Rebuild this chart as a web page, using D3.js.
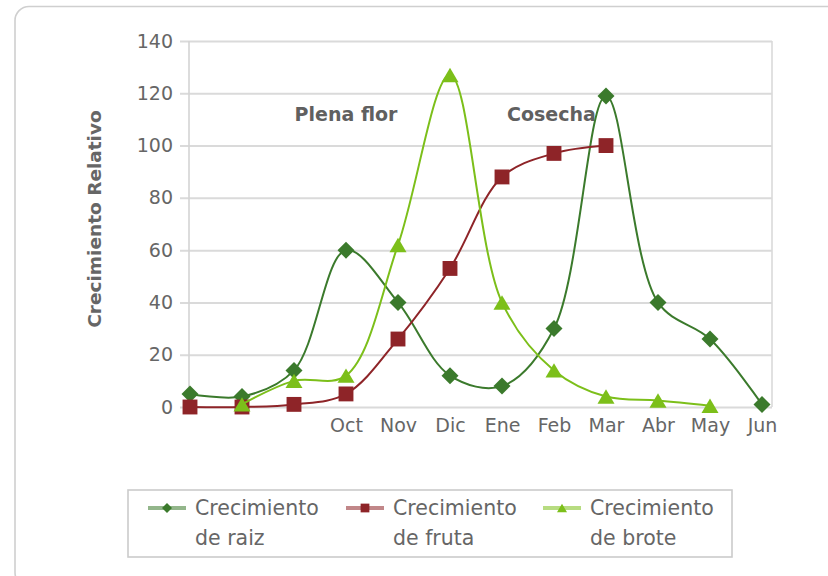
<!DOCTYPE html>
<html>
<head>
<meta charset="utf-8">
<script src="https://cdn.jsdelivr.net/npm/d3@7"></script>
<style>
  html, body { margin: 0; padding: 0; background: #fff; }
  svg { display: block; }
</style>
</head>
<body>
<svg id="chart" width="828" height="576"></svg>
<script>
// Month labels along the x axis (the first three months carry no label)
const monthLabels = ["", "", "", "Oct", "Nov", "Dic", "Ene", "Feb", "Mar", "Abr", "May", "Jun"];

// Relative growth per month (null = no measurement)
const raiz  = [5, 4, 14, 60, 40, 12, 8, 30, 119, 40, 26, 1];
const fruta = [0, 0, 1, 5, 26, 53, 88, 97, 100, null, null, null];
const brote = [null, 1, 10, 12, 62, 127, 40, 14, 4, 2.5, 0.5, null];

const seriesNames = ["Crecimiento de raiz", "Crecimiento de fruta", "Crecimiento de brote"];
const yTicks = [0, 20, 40, 60, 80, 100, 120, 140];
const yTitle = "Crecimiento Relativo";

// Phase annotations: label, month index, height in chart units
const annotationLabels = ["Plena flor", "Cosecha"];
const annotationMonths = [3, 6.95];
const annotationLevel = 112;

const colors = ["#3b7a2c", "#8e2428", "#7cbf1a"];
const markerShapes = ["diamond", "square", "triangle"];
const FONT = "'DejaVu Sans', sans-serif";
const TEXT = "#666";

const svg = d3.select("#chart");

// outer rounded frame
svg.append("rect")
  .attr("x", 15).attr("y", 6.5)
  .attr("width", 900).attr("height", 580)
  .attr("rx", 14).attr("ry", 14)
  .attr("fill", "none")
  .attr("stroke", "#cfcfcf")
  .attr("stroke-width", 1.6);

const plot = { left: 189, right: 772, top: 41, bottom: 407 };

const x = d3.scaleLinear().domain([0, monthLabels.length - 1]).range([190, 762]);
const y = d3.scaleLinear().domain([0, 140]).range([plot.bottom, plot.top]);

// horizontal gridlines + y tick labels
const yAxis = svg.append("g")
  .attr("transform", `translate(180,0)`)
  .call(d3.axisLeft(y).tickValues(yTicks).tickSize(-(plot.right - 180)).tickPadding(7));
yAxis.select(".domain").remove();
yAxis.selectAll(".tick line").attr("stroke", "#dadada").attr("stroke-width", 2);
yAxis.selectAll(".tick text")
  .attr("font-family", FONT).attr("font-size", 19).attr("fill", TEXT);

// vertical frame lines of the plot area
svg.append("line")
  .attr("x1", plot.left).attr("x2", plot.left)
  .attr("y1", plot.top).attr("y2", plot.bottom)
  .attr("stroke", "#d4d4d4").attr("stroke-width", 1.6);
svg.append("line")
  .attr("x1", plot.right).attr("x2", plot.right)
  .attr("y1", plot.top).attr("y2", plot.bottom)
  .attr("stroke", "#dadada").attr("stroke-width", 1.6);

// x axis labels
const xAxis = svg.append("g")
  .attr("transform", `translate(0,${plot.bottom})`)
  .call(d3.axisBottom(x).tickValues(d3.range(monthLabels.length))
    .tickFormat(i => monthLabels[i]).tickSize(0).tickPadding(12));
xAxis.select(".domain").remove();
xAxis.selectAll(".tick text")
  .attr("font-family", FONT).attr("font-size", 19).attr("fill", TEXT);

// y axis title
svg.append("text")
  .attr("transform", "translate(95,219) rotate(-90)")
  .attr("text-anchor", "middle")
  .attr("dy", "0.35em")
  .attr("font-family", FONT).attr("font-size", 18.5).attr("font-weight", "bold")
  .attr("fill", TEXT)
  .text(yTitle);

// annotations
annotationLabels.forEach((label, i) => {
  svg.append("text")
    .attr("x", x(annotationMonths[i]))
    .attr("y", y(annotationLevel))
    .attr("dy", "0.35em")
    .attr("text-anchor", "middle")
    .attr("font-family", FONT).attr("font-size", 19).attr("font-weight", "bold")
    .attr("fill", "#606060")
    .text(label);
});

// marker path generator
function markerPath(shape, s) {
  if (shape === "diamond") return `M0,${-s}L${s},0L0,${s}L${-s},0Z`;
  if (shape === "square") return `M${-s * 0.875},${-s * 0.875}H${s * 0.875}V${s * 0.875}H${-s * 0.875}Z`;
  return `M0,${-s * 0.85}L${s},${s * 0.85}L${-s},${s * 0.85}Z`;
}

const line = d3.line()
  .defined(d => d.v != null)
  .x(d => x(d.i))
  .y(d => y(d.v))
  .curve(d3.curveCatmullRom.alpha(0.5));

const allSeries = [raiz, fruta, brote];

allSeries.forEach((values, si) => {
  const pts = values.map((v, i) => ({ i, v }));
  const g = svg.append("g");
  g.append("path")
    .attr("d", line(pts))
    .attr("fill", "none")
    .attr("stroke", colors[si])
    .attr("stroke-width", 2);
  g.selectAll("path.m")
    .data(pts.filter(d => d.v != null))
    .join("path")
    .attr("class", "m")
    .attr("transform", d => `translate(${x(d.i)},${y(d.v)})`)
    .attr("d", markerPath(markerShapes[si], 8.5))
    .attr("fill", colors[si]);
});

// legend
svg.append("rect")
  .attr("x", 128).attr("y", 490)
  .attr("width", 604).attr("height", 67)
  .attr("fill", "#fff")
  .attr("stroke", "#cbcbcb").attr("stroke-width", 1.6);

const legendX = [148, 346, 543];
seriesNames.forEach((name, si) => {
  const g = svg.append("g").attr("transform", `translate(${legendX[si]},508)`);
  g.append("line")
    .attr("x1", 0).attr("x2", 38)
    .attr("stroke", colors[si]).attr("stroke-width", 4).attr("stroke-opacity", 0.55);
  g.append("path")
    .attr("transform", "translate(19,0)")
    .attr("d", markerPath(markerShapes[si], 5))
    .attr("fill", colors[si]);
  const cut = name.indexOf(" ");
  const lines = [name.slice(0, cut), name.slice(cut + 1)];
  g.append("text")
    .attr("x", 47)
    .attr("font-family", FONT).attr("font-size", 20.5)
    .attr("fill", TEXT)
    .selectAll("tspan")
    .data(lines)
    .join("tspan")
    .attr("x", 47)
    .attr("y", (d, k) => 7 + k * 30)
    .text(d => d);
});
</script>
</body>
</html>
